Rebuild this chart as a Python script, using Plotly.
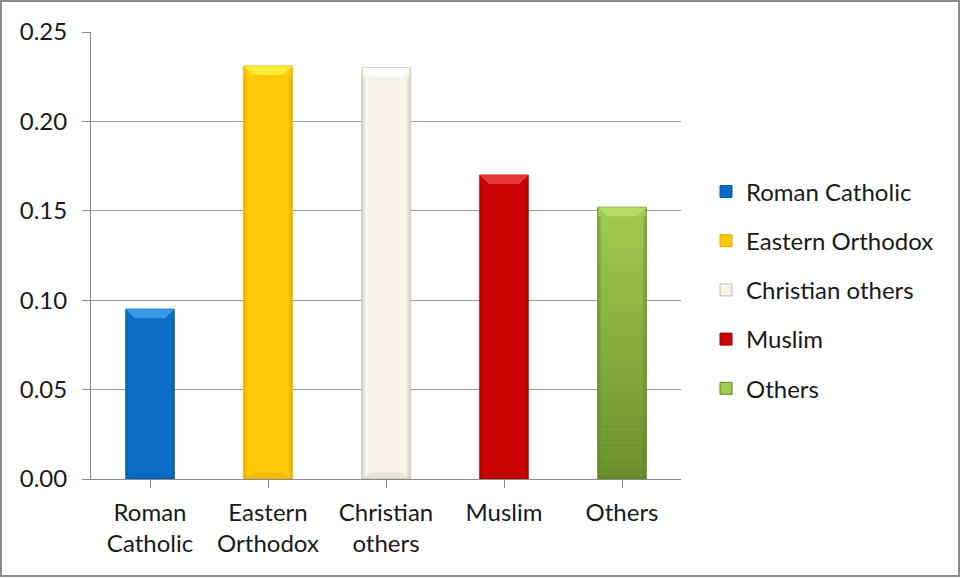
import plotly.graph_objects as go

# Share of population by religious affiliation
categories = ["Roman Catholic", "Eastern Orthodox", "Christian others", "Muslim", "Others"]
tick_labels = ["Roman<br>Catholic", "Eastern<br>Orthodox", "Christian<br>others", "Muslim", "Others"]
values = [0.095, 0.231, 0.230, 0.170, 0.152]

# (face, highlight, shadow) colours for each bar
base_colors = ["#0b6fc7", "#ffc806", "#f7f5e9", "#cb0303", "#a2cc50"]
light_colors = ["#3f9de8", "#fff03a", "#ffffff", "#ea3d3d", "#b4df62"]
dark_colors = ["#0659a6", "#dca600", "#bdbbad", "#a30000", "#5f8424"]
# bars whose face darkens towards the base
graded = [False, False, False, False, True]

FONT = "Lato"
FS = 24
W, H = 961, 578
ML, MR, MT, MB = 91, 280, 32, 99
Y_MAX = 0.25
BAR_W = 0.41

plot_w = W - ML - MR
plot_h = H - MT - MB
x_per_px = len(categories) / plot_w
y_per_px = Y_MAX / plot_h

fig = go.Figure()
for i, (cat, val) in enumerate(zip(categories, values)):
    fig.add_trace(go.Bar(
        x=[i], y=[val], name=cat, width=BAR_W,
        marker=dict(color=base_colors[i], line=dict(color=dark_colors[i], width=1)),
        legendgroup=cat, hoverinfo="x+y",
    ))

shapes = []
# vertical shading: darker slices towards the bottom of graded bars
n_steps = 60
for i, val in enumerate(values):
    if not graded[i]:
        continue
    l, r = i - BAR_W / 2, i + BAR_W / 2
    for k in range(n_steps):
        y0 = val * k / n_steps
        y1 = val * (k + 1) / n_steps
        shapes.append(dict(type="rect", xref="x", yref="y", layer="above",
                           x0=l, x1=r, y0=y0, y1=y1, fillcolor=dark_colors[i],
                           line=dict(width=0), opacity=0.85 * (1 - (k + 0.5) / n_steps)))

# bevel shading on each bar: light top facet, darker side and bottom facets
bev_x = 9 * x_per_px
bev_y = 9 * y_per_px
side = 3 * x_per_px
for i, val in enumerate(values):
    l, r = i - BAR_W / 2, i + BAR_W / 2
    shapes.append(dict(type="path", xref="x", yref="y", layer="above",
                       path=f"M{l},{val} L{r},{val} L{r - bev_x},{val - bev_y} L{l + bev_x},{val - bev_y} Z",
                       fillcolor=light_colors[i], line=dict(width=0), opacity=0.9))
    shapes.append(dict(type="path", xref="x", yref="y", layer="above",
                       path=f"M{l},0 L{r},0 L{r - bev_x},{bev_y * 0.7} L{l + bev_x},{bev_y * 0.7} Z",
                       fillcolor=dark_colors[i], line=dict(width=0), opacity=0.3))
    for x0, x1 in ((l, l + side), (r - side, r)):
        shapes.append(dict(type="rect", xref="x", yref="y", layer="above",
                           x0=x0, x1=x1, y0=0, y1=val - bev_y,
                           fillcolor=dark_colors[i], line=dict(width=0), opacity=0.35))

# outer frame around the whole figure
shapes.append(dict(type="rect", xref="paper", yref="paper",
                   x0=(1 - ML) / plot_w, x1=(W - 2 - ML) / plot_w,
                   y0=-(H - 2 - MT - plot_h) / plot_h, y1=(plot_h + MT - 1) / plot_h,
                   line=dict(color="#8c8c8c", width=2), fillcolor="rgba(0,0,0,0)"))

fig.update_layout(
    width=W, height=H,
    margin=dict(l=ML, r=MR, t=MT, b=MB),
    paper_bgcolor="white", plot_bgcolor="white",
    barmode="overlay", showlegend=True,
    font=dict(family=FONT, size=FS, color="#1a1a1a"),
    legend=dict(x=(706 - ML) / plot_w, xanchor="left", y=0.423, yanchor="middle",
                font=dict(family=FONT, size=FS, color="#1a1a1a"),
                tracegroupgap=15, itemwidth=30, bgcolor="rgba(0,0,0,0)"),
    shapes=shapes,
    xaxis=dict(
        tickmode="array", tickvals=list(range(len(categories))), ticktext=tick_labels,
        range=[-0.5, len(categories) - 0.5],
        showline=True, linecolor="#8a8a8a", linewidth=1,
        ticks="outside", tickson="boundaries", ticklen=8, tickcolor="#8a8a8a",
        ticklabelstandoff=4,
        showgrid=False, zeroline=False,
        tickfont=dict(family=FONT, size=FS, color="#1a1a1a"),
    ),
    yaxis=dict(
        range=[0, Y_MAX], dtick=0.05, tickformat=".2f",
        showline=True, linecolor="#8a8a8a", linewidth=1,
        ticks="outside", ticklen=8, tickcolor="#8a8a8a", ticklabelstandoff=10,
        showgrid=True, gridcolor="#9a9a9a", gridwidth=1, zeroline=False,
        tickfont=dict(family=FONT, size=FS, color="#1a1a1a"),
    ),
)

fig.write_html("out.html")
